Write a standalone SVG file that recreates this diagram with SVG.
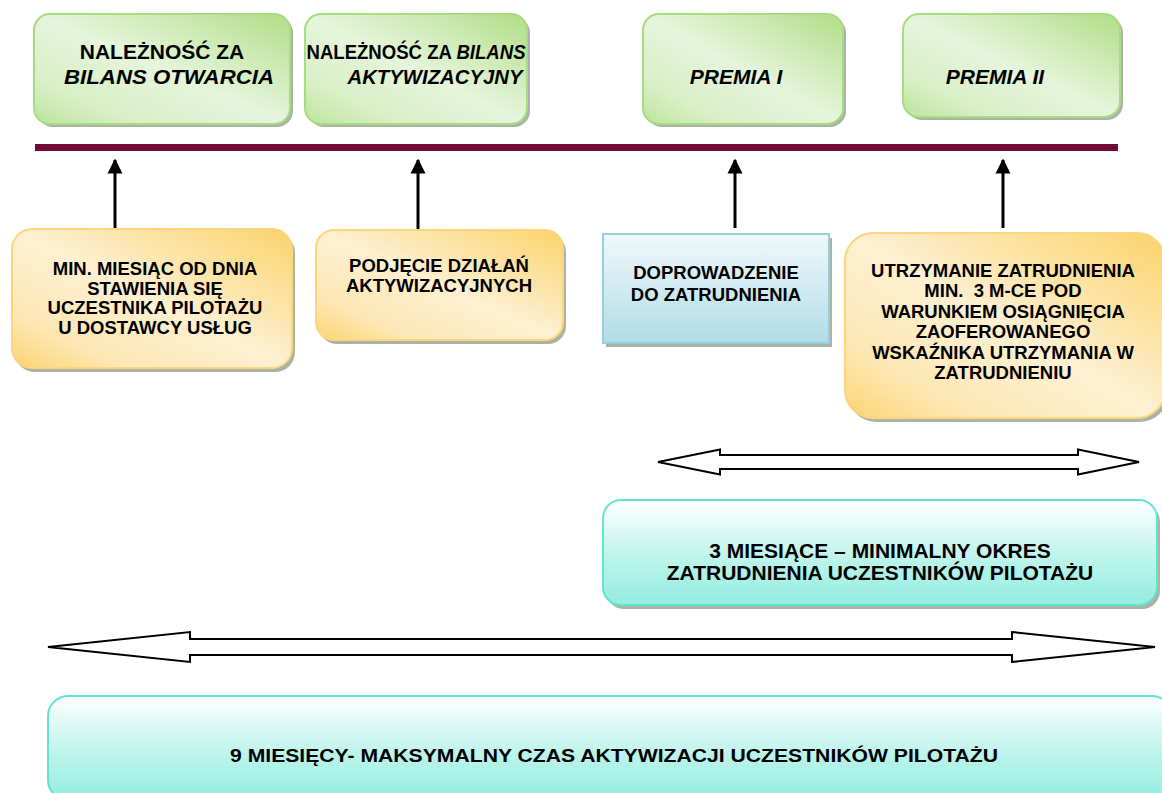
<svg xmlns="http://www.w3.org/2000/svg" width="1162" height="793" viewBox="0 0 1162 793">
<defs>
<linearGradient id="gGreen" x1="1" y1="0" x2="0" y2="1">
<stop offset="0" stop-color="#b0de86"/><stop offset="0.5" stop-color="#e6f5dc"/><stop offset="0.8" stop-color="#d8efc6"/><stop offset="1" stop-color="#bce49a"/>
</linearGradient>
<linearGradient id="gOrange" x1="1" y1="0" x2="0" y2="1">
<stop offset="0" stop-color="#fbd36a"/><stop offset="0.5" stop-color="#fdf0d2"/><stop offset="0.8" stop-color="#fde7b4"/><stop offset="1" stop-color="#fbd470"/>
</linearGradient>
<linearGradient id="gBlue" x1="0" y1="0" x2="0" y2="1">
<stop offset="0" stop-color="#f0f9fb"/><stop offset="1" stop-color="#b2dce8"/>
</linearGradient>
<linearGradient id="gTeal" x1="0" y1="0" x2="0" y2="1">
<stop offset="0" stop-color="#ffffff"/><stop offset="0.6" stop-color="#b8f3ea"/><stop offset="1" stop-color="#94ede0"/>
</linearGradient>
<marker id="ah" viewBox="0 0 10 10" refX="9" refY="5" markerWidth="5" markerHeight="5.5" orient="auto" markerUnits="strokeWidth">
<path d="M0,0 L10,5 L0,10 z" fill="#000"/>
</marker>
</defs>
<style>
.t{font-family:"Liberation Sans",Arial,sans-serif;font-weight:bold;fill:#000;text-anchor:middle}
.tg{font-size:21px}
.to{font-size:18.5px}
.tt{font-size:21px}
.sh{fill:#8f9a86;opacity:0.75}
.green{fill:url(#gGreen);stroke:#a8dc82;stroke-width:2}
.orange{fill:url(#gOrange);stroke:#fcd67e;stroke-width:2}
.blue{fill:url(#gBlue);stroke:#93cfdc;stroke-width:2}
.teal{fill:url(#gTeal);stroke:#62e3d0;stroke-width:2}
.conn{stroke:#000;stroke-width:3;fill:none}
.dbl{fill:#fff;stroke:#000;stroke-width:2}
</style>
<rect width="1162" height="793" fill="#fff"/>

<g id="top1">
<rect class="sh" x="37" y="17" width="256" height="110" rx="16"/>
<rect class="green" x="34" y="14" width="256" height="110" rx="16"/>
<text class="t tg" x="162" y="59">NALEŻNOŚĆ ZA</text>
<text class="t tg" x="169" y="84" font-style="italic" textLength="210" lengthAdjust="spacingAndGlyphs">BILANS OTWARCIA</text>
</g>
<g id="top2">
<rect class="sh" x="308" y="17" width="222" height="110" rx="16"/>
<rect class="green" x="305" y="14" width="222" height="110" rx="16"/>
<text class="t tg" transform="translate(416 59) scale(0.885 1)" x="0" y="0">NALEŻNOŚĆ ZA <tspan font-style="italic">BILANS</tspan></text>
<text class="t tg" x="435" y="84" font-style="italic" textLength="175" lengthAdjust="spacingAndGlyphs">AKTYWIZACYJNY</text>
</g>
<g id="top3">
<rect class="sh" x="646" y="17" width="200" height="110" rx="16"/>
<rect class="green" x="643" y="14" width="200" height="110" rx="16"/>
<text class="t tg" x="736" y="84" font-style="italic">PREMIA I</text>
</g>
<g id="top4">
<rect class="sh" x="906" y="17" width="217" height="103" rx="16"/>
<rect class="green" x="903" y="14" width="217" height="103" rx="16"/>
<text class="t tg" x="995" y="84" font-style="italic">PREMIA II</text>
</g>

<g id="timeline">
<rect x="35" y="144" width="1083" height="7" fill="#720b38"/>
</g>

<g id="connectors">
<line class="conn" x1="115" y1="228" x2="115" y2="160" marker-end="url(#ah)"/>
<line class="conn" x1="418" y1="234" x2="418" y2="160" marker-end="url(#ah)"/>
<line class="conn" x1="735" y1="228" x2="735" y2="160" marker-end="url(#ah)"/>
<line class="conn" x1="1003" y1="228" x2="1003" y2="160" marker-end="url(#ah)"/>
<path class="dbl" d="M658,462 L720,449.5 L720,455 L1078,455 L1078,449.5 L1139,462 L1078,474.5 L1078,469 L720,469 L720,474.5 Z"/>
<path class="dbl" d="M48,647 L190,632 L190,639 L1012,639 L1012,632 L1155,647 L1012,662 L1012,655 L190,655 L190,662 Z"/>
</g>

<g id="nodeA">
<rect class="sh" x="15" y="233" width="280" height="139" rx="20"/>
<rect class="orange" x="12" y="229" width="280" height="139" rx="20"/>
<text class="t to" x="155" y="275">MIN. MIESIĄC OD DNIA</text>
<text class="t to" x="155" y="294.5">STAWIENIA SIĘ</text>
<text class="t to" x="155" y="314">UCZESTNIKA PILOTAŻU</text>
<text class="t to" x="155" y="333.5">U DOSTAWCY USŁUG</text>
</g>
<g id="nodeB">
<rect class="sh" x="319" y="234" width="247" height="110" rx="18"/>
<rect class="orange" x="316" y="230" width="247" height="110" rx="18"/>
<text class="t to" x="439" y="272">PODJĘCIE DZIAŁAŃ</text>
<text class="t to" x="439" y="292">AKTYWIZACYJNYCH</text>
</g>
<g id="nodeC">
<rect class="sh" x="606" y="238" width="226" height="109"/>
<rect class="blue" x="603" y="234" width="226" height="109"/>
<text class="t to" x="716" y="279">DOPROWADZENIE</text>
<text class="t to" x="716" y="301">DO ZATRUDNIENIA</text>
</g>
<g id="nodeD">
<rect class="sh" x="848" y="237" width="320" height="185" rx="28"/>
<rect class="orange" x="845" y="233" width="320" height="185" rx="28"/>
<text class="t to" x="1003" y="277">UTRZYMANIE ZATRUDNIENIA</text>
<text class="t to" x="1003" y="297" xml:space="preserve">MIN.  3 M-CE POD</text>
<text class="t to" x="1003" y="318">WARUNKIEM OSIĄGNIĘCIA</text>
<text class="t to" x="1003" y="338">ZAOFEROWANEGO</text>
<text class="t to" x="1003" y="359">WSKAŹNIKA UTRZYMANIA W</text>
<text class="t to" x="1003" y="379">ZATRUDNIENIU</text>
</g>
<g id="period3">
<rect class="sh" x="606" y="504" width="554" height="105" rx="18"/>
<rect class="teal" x="603" y="500" width="554" height="105" rx="18"/>
<text class="t tt" x="880" y="558">3 MIESIĄCE – MINIMALNY OKRES</text>
<text class="t tt" x="880" y="580">ZATRUDNIENIA UCZESTNIKÓW PILOTAŻU</text>
</g>
<g id="period9">
<rect class="sh" x="51" y="700" width="1124" height="104" rx="20"/>
<rect class="teal" x="48" y="696" width="1124" height="104" rx="20"/>
<text class="t" font-size="18" x="614" y="762" textLength="768" lengthAdjust="spacingAndGlyphs">9 MIESIĘCY- MAKSYMALNY CZAS AKTYWIZACJI UCZESTNIKÓW PILOTAŻU</text>
</g>
</svg>
